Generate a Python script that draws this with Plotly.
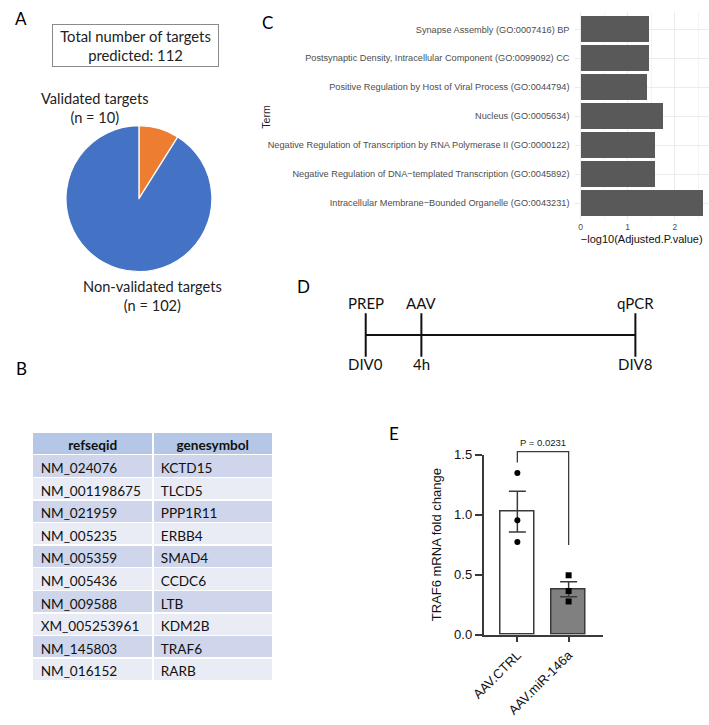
import numpy as np
import plotly.graph_objects as go

W, H = 709, 725
def px(x): return x / W
def py(y): return 1 - y / H

# ---------- Data ----------
# Panel A
pie_labels = ["Validated targets", "Non-validated targets"]
pie_values = [10, 102]
pie_colors = ["#ED7D31", "#4472C4"]
total_targets = sum(pie_values)

# Panel B
refseqid = ["NM_024076", "NM_001198675", "NM_021959", "NM_005235", "NM_005359",
            "NM_005436", "NM_009588", "XM_005253961", "NM_145803", "NM_016152"]
genesymbol = ["KCTD15", "TLCD5", "PPP1R11", "ERBB4", "SMAD4",
              "CCDC6", "LTB", "KDM2B", "TRAF6", "RARB"]
table_header = ["refseqid", "genesymbol"]

# Panel C (top to bottom)
go_terms = [
    "Synapse Assembly (GO:0007416) BP",
    "Postsynaptic Density, Intracellular Component (GO:0099092) CC",
    "Positive Regulation by Host of Viral Process (GO:0044794)",
    "Nucleus (GO:0005634)",
    "Negative Regulation of Transcription by RNA Polymerase II (GO:0000122)",
    "Negative Regulation of DNA\u2212templated Transcription (GO:0045892)",
    "Intracellular Membrane\u2212Bounded Organelle (GO:0043231)",
]
go_neglog10p = [1.45, 1.44, 1.39, 1.75, 1.56, 1.56, 2.60]

# Panel D (schematic timeline)
tl_events = ["PREP", "AAV", "qPCR"]
tl_times = ["DIV0", "4h", "DIV8"]
tl_pos = [0.0, 1.0, 4.845]

# Panel E
e_groups = ["AAV.CTRL", "AAV.miR-146a"]
e_ctrl = [1.347, 0.953, 0.772]
e_mir = [0.495, 0.364, 0.277]
e_pvalue = "P = 0.0231"

e_means = [float(np.mean(e_ctrl)), float(np.mean(e_mir))]
e_sem = [float(np.std(e_ctrl, ddof=1) / np.sqrt(len(e_ctrl))),
         float(np.std(e_mir, ddof=1) / np.sqrt(len(e_mir)))]

CAL = "Lato, 'Open Sans', sans-serif"
ARIAL = "'Liberation Sans', Arial, sans-serif"

fig = go.Figure()

# ---------- Panel A: pie ----------
fig.add_trace(go.Pie(
    labels=pie_labels, values=pie_values, sort=False, direction="counterclockwise",
    rotation=0, textinfo="none", hoverinfo="label+value",
    marker=dict(colors=pie_colors, line=dict(color="white", width=1.2)),
    domain=dict(x=[px(53.8), px(202.8)], y=[py(270.2), py(121.2)]),
    showlegend=False,
))

# ---------- Panel B: table ----------
row_fill = ["#CFD5EA" if i % 2 == 0 else "#E9EBF5" for i in range(len(refseqid))]
fig.add_trace(go.Table(
    domain=dict(x=[px(20), px(264.5)], y=[py(700), py(434)]),
    columnwidth=[122.3, 122],
    header=dict(values=table_header,
                fill_color="#B4C7E7", align="center", height=22.7,
                line=dict(color="white", width=1.5),
                font=dict(family=CAL, size=13.6, color="#111111", weight="bold")),
    cells=dict(values=[refseqid, genesymbol],
               fill_color=[row_fill, row_fill], align="left", height=22.6,
               line=dict(color="white", width=1.5),
               font=dict(family=CAL, size=13.6, color="#111111")),
))

# ---------- Panel C: GO bars ----------
fig.add_trace(go.Bar(
    x=go_neglog10p, y=go_terms, orientation="h", width=0.9,
    marker=dict(color="#595959", line=dict(width=0)),
    xaxis="x", yaxis="y", showlegend=False,
))

# ---------- Panel D: timeline ----------
fig.add_trace(go.Scatter(
    x=tl_pos, y=[0] * len(tl_pos), mode="lines+markers",
    line=dict(color="#111111", width=2),
    marker=dict(symbol="line-ns", size=31, line=dict(color="#111111", width=2)),
    xaxis="x4", yaxis="y4", showlegend=False, hoverinfo="skip",
))

# ---------- Panel E: bar chart ----------
fig.add_trace(go.Bar(
    x=e_groups, y=e_means, width=0.656,
    marker=dict(color=["white", "#808080"], line=dict(color="#3a3a3a", width=1.5)),
    error_y=dict(type="data", array=e_sem, visible=True, color="#3a3a3a",
                 thickness=1.5, width=8.5),
    xaxis="x2", yaxis="y2", showlegend=False,
))
fig.add_trace(go.Scatter(
    x=[e_groups[0]] * len(e_ctrl), y=e_ctrl, mode="markers",
    marker=dict(symbol="circle", size=6, color="black"),
    xaxis="x2", yaxis="y2", showlegend=False, cliponaxis=False,
))
fig.add_trace(go.Scatter(
    x=[e_groups[1]] * len(e_mir), y=e_mir, mode="markers",
    marker=dict(symbol="square", size=6, color="black"),
    xaxis="x2", yaxis="y2", showlegend=False, cliponaxis=False,
))
# significance bracket (overlay axis sharing the same scale)
bracket_top = 1.524
bracket_left_end = 1.434
bracket_right_end = 0.747
fig.add_trace(go.Scatter(
    x=[e_groups[0], e_groups[0], e_groups[1], e_groups[1]],
    y=[bracket_left_end, bracket_top, bracket_top, bracket_right_end],
    mode="lines", line=dict(color="#3a3a3a", width=1.3),
    xaxis="x2", yaxis="y3", showlegend=False, hoverinfo="skip",
))

annotations = []
# panel letters
letter_pos = [(8.5, 12), (9, 369), (259.7, 16), (296, 285), (388, 436)]
for letter, (lx, ly) in zip("ABCDE", letter_pos):
    annotations.append(dict(text=letter, x=px(lx), y=py(ly), xref="paper", yref="paper",
                            showarrow=False, xanchor="center", yanchor="middle",
                            font=dict(family=CAL, size=17, color="black")))
# panel A texts
annotations.append(dict(text=f"Total number of targets<br>predicted: {total_targets}",
                        x=px(124.5), y=py(39.5), xref="paper", yref="paper",
                        showarrow=False, xanchor="center", yanchor="middle",
                        width=163, height=39, borderpad=1,
                        bordercolor="#8a8a8a", borderwidth=1,
                        font=dict(family=CAL, size=14.8, color="#222222")))
annotations.append(dict(text=f"{pie_labels[0]}<br>(n = {pie_values[0]})",
                        x=px(83), y=py(103.5), xref="paper", yref="paper",
                        showarrow=False, xanchor="center", yanchor="middle",
                        font=dict(family=CAL, size=14.6, color="#222222")))
annotations.append(dict(text=f"{pie_labels[1]}<br>(n = {pie_values[1]})",
                        x=px(141.7), y=py(295), xref="paper", yref="paper",
                        showarrow=False, xanchor="center", yanchor="middle",
                        font=dict(family=CAL, size=14.6, color="#222222")))
# panel C y title
annotations.append(dict(text="Term", x=px(258), y=py(111.7), xref="paper", yref="paper",
                        showarrow=False, textangle=-90, xanchor="center", yanchor="middle",
                        font=dict(family=ARIAL, size=10.5, color="#222222")))
# panel D labels
for p, ev, tm in zip(tl_pos, tl_events, tl_times):
    annotations.append(dict(text=ev, x=p, y=1.09, xref="x4", yref="y4", showarrow=False,
                            xanchor="center", yanchor="middle",
                            font=dict(family=CAL, size=15, color="#111111")))
    annotations.append(dict(text=tm, x=p, y=-0.99, xref="x4", yref="y4", showarrow=False,
                            xanchor="center", yanchor="middle",
                            font=dict(family=CAL, size=15, color="#111111")))
# panel E p-value
annotations.append(dict(text=e_pvalue, x=0.5, y=bracket_top, xref="x2", yref="y3",
                        showarrow=False, xanchor="center", yanchor="bottom", yshift=2,
                        font=dict(family=ARIAL, size=9.5, color="#222222")))

C_ZERO, C_SCALE = 578.3, 47.9   # pixel of x=0 and pixels per unit in panel C
C_LEFT, C_RIGHT = 572, 709

fig.update_layout(
    width=W, height=H, margin=dict(l=0, r=0, t=0, b=0),
    paper_bgcolor="white", plot_bgcolor="rgba(0,0,0,0)",
    showlegend=False, bargap=0,
    annotations=annotations,
    # Panel C axes
    xaxis=dict(domain=[px(C_LEFT), px(C_RIGHT)], anchor="y",
               range=[(C_LEFT - C_ZERO) / C_SCALE, (C_RIGHT - C_ZERO) / C_SCALE],
               tickvals=[0, 1, 2], showgrid=True, gridcolor="#EBEBEB", gridwidth=1,
               minor=dict(tickvals=[0.5, 1.5, 2.5], showgrid=True, gridcolor="#F4F4F4", gridwidth=1),
               zeroline=False, showline=False, ticks="",
               tickfont=dict(family=ARIAL, size=8.5, color="#4D4D4D"),
               title=dict(text="\u2212log10(Adjusted.P.value)", standoff=4,
                          font=dict(family=ARIAL, size=11, color="#111111"))),
    yaxis=dict(domain=[py(218), py(5)], anchor="x", type="category",
               categoryorder="array", categoryarray=go_terms,
               range=[6.6, -0.6], showgrid=True, gridcolor="#EBEBEB", gridwidth=1,
               zeroline=False, showline=False, ticks="", ticklabelstandoff=4,
               tickfont=dict(family=ARIAL, size=9.2, color="#4D4D4D")),
    # Panel E axes
    xaxis2=dict(domain=[px(479.3), px(601)], anchor="y2", type="category",
                range=[-0.66, 1.67], showline=True, linecolor="#3a3a3a", linewidth=1.5,
                ticks="outside", ticklen=6, tickwidth=1.5, tickcolor="#3a3a3a",
                tickangle=-45, showgrid=False, zeroline=False,
                tickfont=dict(family=ARIAL, size=13, color="#111111")),
    yaxis2=dict(domain=[py(641), py(457)], anchor="x2", range=[0, 1.5],
                tickvals=[0, 0.5, 1.0, 1.5], tickformat=".1f",
                showline=True, linecolor="#3a3a3a", linewidth=1.5,
                ticks="outside", ticklen=7, tickwidth=1.5, tickcolor="#3a3a3a",
                showgrid=False, zeroline=False,
                tickfont=dict(family=ARIAL, size=13, color="#111111"),
                title=dict(text="TRAF6 mRNA fold change", standoff=10,
                           font=dict(family=ARIAL, size=13, color="#111111"))),
    yaxis3=dict(domain=[py(641), py(420)], anchor="x2", range=[0, 221 / 122.7],
                visible=False, showgrid=False, zeroline=False),
    # Panel D axes
    xaxis4=dict(domain=[px(340), px(660)], anchor="y4",
                range=[(340 - 359.3) / 56.7, (660 - 359.3) / 56.7], visible=False),
    yaxis4=dict(domain=[py(380), py(290)], anchor="x4", range=[-1.5, 1.5], visible=False),
)

fig.write_html("out.html")
